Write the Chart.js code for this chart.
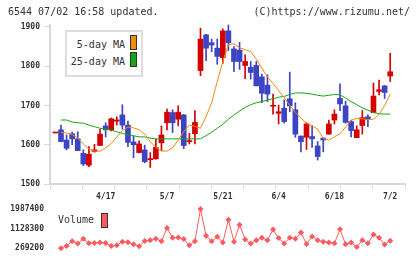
<!DOCTYPE html>
<html>
<head>
<meta charset="utf-8">
<script src="https://cdn.jsdelivr.net/npm/chart.js@4.4.1/dist/chart.umd.min.js"></script>
<style>
  body { margin: 0; background: #fff; }
  #wrap { position: relative; width: 420px; height: 259px; overflow: hidden; font-family: "DejaVu Sans Mono", monospace; color: #333; }
  #main { position: absolute; left: 0; top: 0; }
  #vol { position: absolute; left: 0; top: 196px; }
  .txt { position: absolute; font-size: 10px; line-height: 10px; white-space: pre; }
  #legend { position: absolute; left: 65px; top: 30px; width: 74px; height: 43px; border: 2px solid #ddd; background: #fff; }
  .sw { position: absolute; width: 5px; height: 13px; border: 1px solid #333; }
</style>
</head>
<body>
<div id="wrap">
  <canvas id="main" width="420" height="205"></canvas>
  <canvas id="vol" width="420" height="63"></canvas>
  <div class="txt" style="left:8px;top:7px">6544 07/02 16:58 updated.</div>
  <div class="txt" style="right:10px;top:7px">(C)https://www.rizumu.net/</div>
  <div id="legend"></div>
  <div class="txt" id="volText" style="left:58px;top:215px"></div>
  <div class="sw" id="volSwatch" style="left:101px;top:213px"></div>
</div>
<script>
// values (index 0 = 4/4 ... index 60 = 7/2)
const dates = ['4/4','4/5','4/8','4/9','4/10','4/11','4/12','4/15','4/16','4/17',
  '4/18','4/19','4/22','4/23','4/24','4/25','4/26','4/30','5/1','5/2','5/7',
  '5/8','5/9','5/10','5/13','5/14','5/15','5/16','5/17','5/20','5/21',
  '5/22','5/23','5/24','5/27','5/28','5/29','5/30','5/31','6/3','6/4',
  '6/5','6/6','6/7','6/10','6/11','6/12','6/13','6/14','6/17','6/18',
  '6/19','6/20','6/21','6/24','6/25','6/26','6/27','6/28','7/1','7/2'];
const dateTicks = ['4/17', '5/7', '5/21', '6/4', '6/18', '7/2'];

const openP = [1630,1638,1612,1628,1615,1578,1548,1583,1598,1648,
  1638,1660,1676,1650,1607,1580,1587,1562,1564,1605,1656,
  1682,1665,1676,1608,1628,1789,1880,1860,1846,1822,
  1890,1844,1841,1802,1797,1802,1773,1752,1698,1680,
  1693,1717,1689,1622,1619,1621,1597,1617,1627,1663,
  1718,1699,1659,1618,1649,1671,1682,1736,1750,1775];
const highP = [1630,1650,1625,1632,1633,1587,1595,1601,1639,1656,
  1668,1671,1702,1660,1622,1610,1599,1580,1614,1648,1691,
  1689,1699,1677,1629,1687,1897,1881,1869,1869,1895,
  1905,1850,1861,1829,1812,1812,1780,1778,1729,1701,
  1714,1785,1707,1623,1656,1649,1608,1618,1663,1689,
  1755,1711,1663,1648,1687,1676,1757,1765,1751,1833];
const lowP = [1630,1607,1587,1600,1585,1547,1544,1581,1598,1620,
  1635,1650,1640,1595,1567,1579,1554,1542,1563,1585,1638,
  1631,1648,1590,1602,1602,1776,1814,1837,1805,1807,
  1840,1786,1792,1768,1767,1750,1707,1710,1678,1653,
  1655,1684,1619,1582,1588,1593,1561,1582,1627,1653,
  1687,1655,1620,1618,1627,1646,1682,1727,1718,1761];
const closeP = [1630,1608,1591,1615,1585,1551,1576,1587,1627,1638,
  1666,1663,1650,1606,1600,1602,1557,1564,1593,1625,1683,
  1656,1683,1598,1610,1657,1869,1846,1854,1825,1890,
  1860,1812,1812,1812,1784,1750,1731,1729,1700,1684,
  1659,1699,1627,1608,1653,1615,1570,1612,1653,1678,
  1704,1657,1636,1638,1669,1664,1724,1740,1733,1786];

const ma5 = [null,1631,1630,1626,1617,1602,1589,1584,1584,1592,
  1603,1620,1636,1645,1643,1638,1627,1608,1593,1584,1584,
  1592,1612,1633,1650,1647,1642,1672,1707,1761,1812,
  1855,1857,1847,1842,1837,1818,1795,1773,1756,1738,
  1720,1700,1682,1668,1655,1648,1640,1616,1612,1620,
  1628,1645,1662,1667,1666,1664,1665,1677,1700,1729];
const ma25 = [null,1663,1663,1658,1656,1655,1650,1646,1642,1640,
  1637,1633,1629,1625,1623,1620,1620,1617,1615,1615,1615,
  1615,1615,1615,1615,1615,1615,1623,1632,1642,1652,
  1665,1676,1686,1695,1702,1707,1710,1714,1717,1721,
  1723,1728,1732,1732,1731,1729,1726,1724,1726,1728,
  1727,1719,1710,1702,1694,1688,1682,1679,1678,1678];

const volume = [null,269200,368000,570000,471000,686000,484000,497000,514000,497000,
  368000,398000,557000,527000,441000,355000,583000,613000,686000,570000,1158000,
  729000,742000,669000,398000,570000,1987400,815000,570000,772000,514000,
  1515000,557000,1300000,656000,471000,613000,729000,613000,1085000,712000,
  471000,729000,686000,956000,454000,785000,613000,557000,514000,484000,
  1098000,441000,514000,325000,613000,484000,871000,729000,428000,600000];

const priceTicks = [1500, 1600, 1700, 1800, 1900];
const volumeTicks = [269200, 1128300, 1987400];

const UP = '#d40000';
const DOWN = '#3c44c4';
const ORANGE = '#f08c0a';
const GREEN = '#14a614';
const VOLC = '#ff5a60';
const AXIS = '#d8d8d8';
const X_MIN = -0.97, X_MAX = 62.65;

Chart.defaults.font.family = '"DejaVu Sans Mono", monospace';
Chart.defaults.animation = false;

const candleColors = openP.map((o, i) => closeP[i] >= o ? UP : DOWN);
const xy = arr => arr.map((v, i) => ({ x: i, y: v }));
const tickFont = { size: 8, weight: 'bold' };

const mainChart = new Chart(document.getElementById('main'), {
    type: 'bar',
    data: {
        datasets: [
            { type: 'line', label: '5-day MA', data: xy(ma5), borderColor: ORANGE, backgroundColor: ORANGE,
              borderWidth: 1, pointRadius: 0, order: 0, clip: false },
            { type: 'line', label: '25-day MA', data: xy(ma25), borderColor: GREEN, backgroundColor: GREEN,
              borderWidth: 1, pointRadius: 0, order: 0, clip: false },
            { label: 'high-low', data: lowP.map((l, i) => ({ x: i, y: [l, highP[i]] })),
              backgroundColor: candleColors, barThickness: 1, grouped: false, order: 2, clip: false },
            { label: 'open-close', data: openP.map((o, i) => ({ x: i, y: [o, closeP[i]] })),
              backgroundColor: candleColors, barThickness: 5, minBarLength: 1, grouped: false, order: 1, clip: false }
        ]
    },
    options: {
        responsive: false,
        layout: { padding: { top: 25, right: 15, left: 0, bottom: 0 } },
        plugins: { legend: { display: false }, tooltip: { enabled: false } },
        scales: {
            x: { type: 'linear', display: false, offset: false, min: X_MIN, max: X_MAX },
            // plain tick marks along the bottom axis
            xg: {
                type: 'linear', position: 'bottom', weight: 1, offset: false, min: 0, max: 11,
                ticks: { stepSize: 1, display: false },
                grid: { offset: false, drawOnChartArea: false, drawTicks: true, tickLength: 5, color: AXIS },
                border: { display: true, color: AXIS, width: 2 },
                afterFit: s => { s.height = 5; }
            },
            // date labels
            xd: {
                type: 'linear', position: 'bottom', weight: 2, offset: false, min: X_MIN, max: X_MAX,
                afterBuildTicks: s => { s.ticks = dateTicks.map(d => ({ value: dates.indexOf(d) })); },
                ticks: { callback: v => dates[v], autoSkip: false, maxRotation: 0, font: tickFont, color: '#333', padding: 3 },
                grid: { display: false, drawTicks: false, offset: false },
                border: { display: false },
                afterFit: s => { s.height = 16; }
            },
            y: {
                min: 1500, max: 1905,
                afterBuildTicks: s => { s.ticks = priceTicks.map(v => ({ value: v })); },
                afterFit: s => { s.width = 50; },
                ticks: { callback: v => String(v), font: tickFont, color: '#333', padding: 4 },
                grid: { drawOnChartArea: false, drawTicks: true, tickLength: 6, color: AXIS },
                border: { display: true, color: AXIS, width: 2 }
            }
        }
    }
});

const volChart = new Chart(document.getElementById('vol'), {
    type: 'line',
    data: {
        datasets: [{ label: 'Volume', data: xy(volume), borderColor: VOLC, backgroundColor: VOLC,
            borderWidth: 1, pointStyle: 'rectRot', pointRadius: 3, pointBorderWidth: 0, clip: false }]
    },
    options: {
        responsive: false,
        layout: { padding: { top: 13, right: 15, left: 0, bottom: 10 } },
        plugins: { legend: { display: false }, tooltip: { enabled: false } },
        scales: {
            x: { type: 'linear', display: false, min: X_MIN, max: X_MAX },
            y: {
                min: volumeTicks[0], max: volumeTicks[volumeTicks.length - 1],
                afterBuildTicks: s => { s.ticks = volumeTicks.map(v => ({ value: v })); },
                afterFit: s => { s.width = 50; },
                ticks: { callback: v => String(v), font: tickFont, color: '#333', padding: 6 },
                grid: { display: false, drawTicks: false },
                border: { display: false }
            }
        }
    }
});

// legend boxes, built from the datasets
const legendBox = document.getElementById('legend');
mainChart.data.datasets.slice(0, 2).forEach((ds, k) => {
    const t = document.createElement('div');
    t.className = 'txt';
    t.style.right = '16px';
    t.style.top = (8 + k * 17) + 'px';
    t.textContent = ds.label;
    legendBox.appendChild(t);
    const sw = document.createElement('div');
    sw.className = 'sw';
    sw.style.left = '63px';
    sw.style.top = (3 + k * 17) + 'px';
    sw.style.background = ds.borderColor;
    legendBox.appendChild(sw);
});
document.getElementById('volText').textContent = volChart.data.datasets[0].label;
document.getElementById('volSwatch').style.background = VOLC;
</script>
</body>
</html>
